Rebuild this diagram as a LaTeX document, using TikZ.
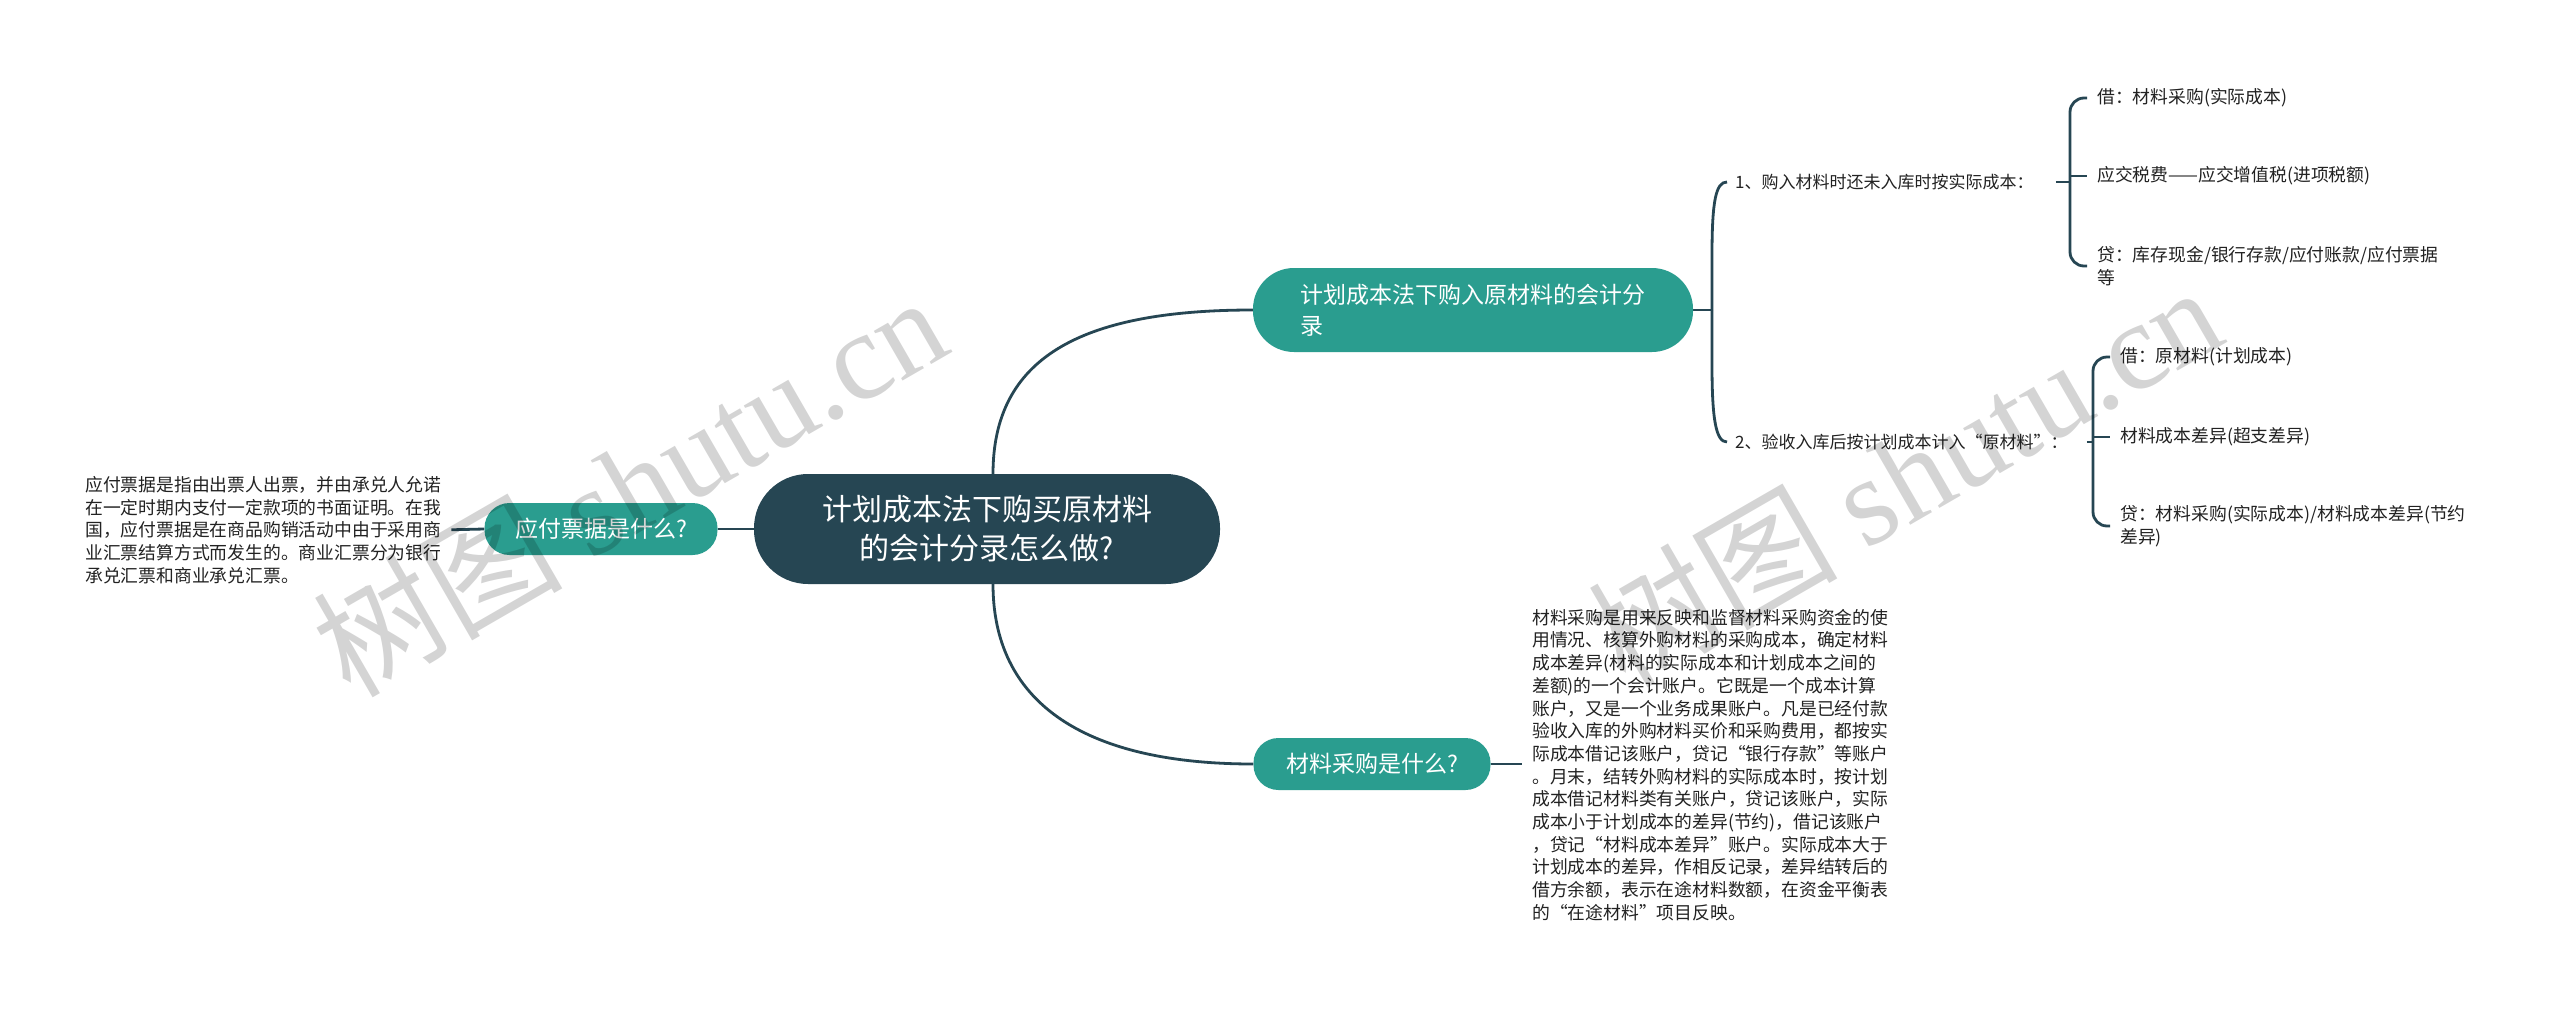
\documentclass[tikz,border=0pt]{standalone}
\usepackage{fontspec}
\setmainfont{Noto Sans CJK SC}
\newfontfamily\wmserif{Liberation Serif}
\usetikzlibrary{backgrounds}
\definecolor{darkslate}{HTML}{264653}
\definecolor{tealbox}{HTML}{2A9D8F}
\definecolor{txt}{HTML}{222222}
\tikzset{
  conn/.style={draw=darkslate, line width=2.8pt},
  rootbox/.style={fill=darkslate, text=white, rounded corners=54pt, minimum width=466pt, minimum height=110pt, align=center, font=\fontsize{30}{39}\selectfont, inner sep=0pt},
  topicbox/.style={fill=tealbox, text=white, font=\fontsize{23}{31}\selectfont, inner sep=0pt},
  plaintext/.style={text=txt, align=left, inner sep=0pt, anchor=west, font=\fontsize{17.8}{22.7}\selectfont},
  subtext/.style={text=txt, align=left, inner sep=0pt, anchor=west, font=\fontsize{17}{22}\selectfont},
  wmark/.style={text=black, text opacity=0.17, anchor=base west, rotate=30, inner sep=0pt, font=\fontsize{125}{125}\selectfont},
}
\begin{document}
\begin{tikzpicture}[x=1pt,y=-1pt]
\useasboundingbox (0,0) rectangle (2560,1009);

% nodes
\node[rootbox] (root) at (987,529) {计划成本法下购买原材料\\的会计分录怎么做?};
\node[topicbox, minimum width=233pt, minimum height=52pt, rounded corners=25pt, align=center] (L) at (601,529) {应付票据是什么?};
\node[topicbox, minimum width=440pt, minimum height=84pt, rounded corners=41pt, align=left] (R1) at (1473,310) {计划成本法下购入原材料的会计分\\录};
\node[topicbox, minimum width=237pt, minimum height=52pt, rounded corners=25pt, align=center] (R2) at (1372,764) {材料采购是什么?};

\node[plaintext] (LT) at (85,530) {应付票据是指由出票人出票，并由承兑人允诺\\在一定时期内支付一定款项的书面证明。在我\\国，应付票据是在商品购销活动中由于采用商\\业汇票结算方式而发生的。商业汇票分为银行\\承兑汇票和商业承兑汇票。};

\node[plaintext] (MT) at (1532,765) {材料采购是用来反映和监督材料采购资金的使\\用情况、核算外购材料的采购成本，确定材料\\成本差异(材料的实际成本和计划成本之间的\\差额)的一个会计账户。它既是一个成本计算\\账户，又是一个业务成果账户。凡是已经付款\\验收入库的外购材料买价和采购费用，都按实\\际成本借记该账户，贷记“银行存款”等账户\\。月末，结转外购材料的实际成本时，按计划\\成本借记材料类有关账户，贷记该账户，实际\\成本小于计划成本的差异(节约)，借记该账户\\，贷记“材料成本差异”账户。实际成本大于\\计划成本的差异，作相反记录，差异结转后的\\借方余额，表示在途材料数额，在资金平衡表\\的“在途材料”项目反映。};

\node[subtext] (A) at (1735,182) {1、购入材料时还未入库时按实际成本：};
\node[subtext] (B) at (1735,442) {2、验收入库后按计划成本计入“原材料”：};

\node[plaintext] (A1) at (2097,98) {借：材料采购(实际成本)};
\node[plaintext] (A2) at (2097,176) {应交税费——应交增值税(进项税额)};
\node[plaintext] (A3) at (2097,266) {贷：库存现金/银行存款/应付账款/应付票据\\等};
\node[plaintext] (B1) at (2120,357) {借：原材料(计划成本)};
\node[plaintext] (B2) at (2120,437) {材料成本差异(超支差异)};
\node[plaintext] (B3) at (2120,526) {贷：材料采购(实际成本)/材料成本差异(节约\\差异)};

\coordinate (s1) at (1712,310);
\coordinate (s2) at (2070,182);
\coordinate (s3) at (2093,442);

\begin{scope}[on background layer]
\fill[white] (0,0) rectangle (2560,1009);
% root links
\draw[conn] (root.west) -- (L.east);
\draw[conn, shorten >=10pt] (L.west) -- (LT.east);
\draw[conn] ([xshift=6pt]root.north) .. controls +(0,-115) and +(-174,0) .. (R1.west);
\draw[conn] ([xshift=6pt]root.south) .. controls +(0,115) and +(-174,0) .. (R2.west);
\draw[conn, shorten >=10pt] (R2.east) -- (R2.east -| MT.west);
% level 2 bracket
\draw[conn] (R1.east) -- (s1);
\draw[conn, shorten >=8pt] (s1) -- ++(0,-55) .. controls +(0,-55) and +(-19,0) .. (A.west);
\draw[conn, shorten >=8pt] (s1) -- ++(0,55) .. controls +(0,55) and +(-19,0) .. (B.west);
% level 3 group 1
\draw[conn, shorten <=22pt] (A.east) -- (s2);
\draw[conn, rounded corners=14pt] ([xshift=-10pt]A1.west) -| (s2) |- ([xshift=-10pt]A3.west);
\draw[conn] (A2.west -| s2) -- ([xshift=-10pt]A2.west);
% level 3 group 2
\draw[conn, shorten <=19pt] (B.east) -- (s3);
\draw[conn, rounded corners=14pt] ([xshift=-10pt]B1.west) -| (s3) |- ([xshift=-10pt]B3.west);
\draw[conn] (B2.west -| s3) -- ([xshift=-10pt]B2.west);
\end{scope}

% watermarks
\node[wmark] (wm1) at (350,700) {树图 {\wmserif shutu.cn}};
\node[wmark] (wm2) at (1625,690) {树图 {\wmserif shutu.cn}};
\end{tikzpicture}
\end{document}
